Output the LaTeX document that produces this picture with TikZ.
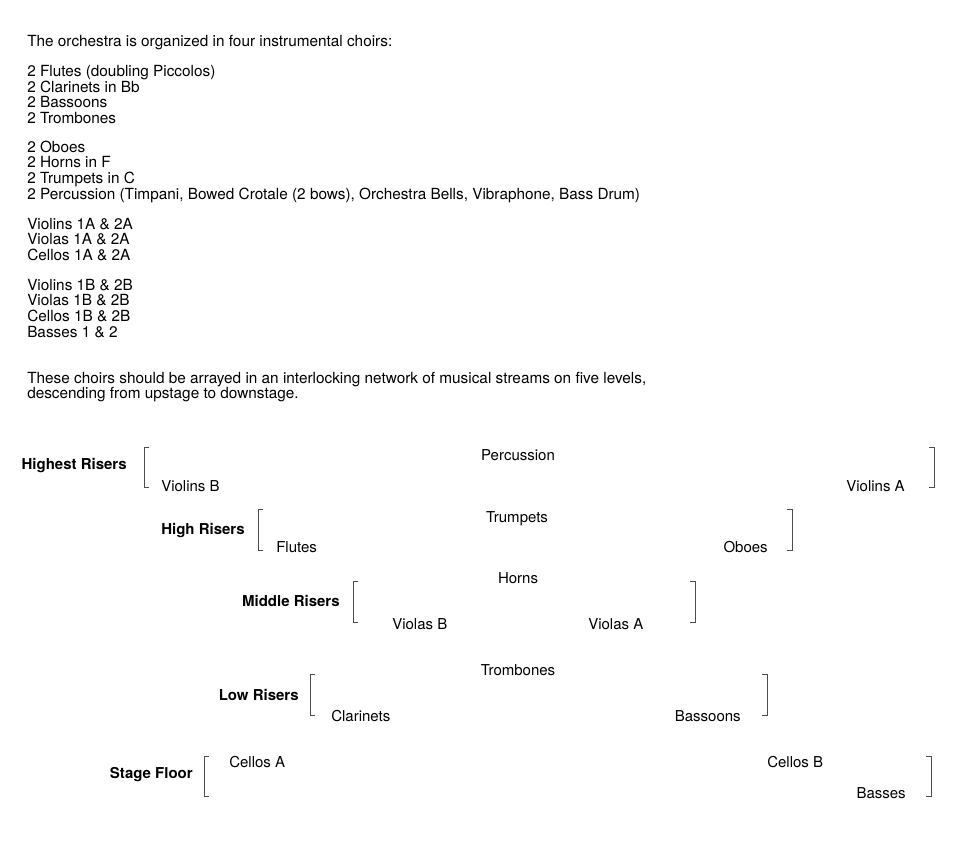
\documentclass[tikz,border=0pt]{standalone}
\usepackage{fontspec}
\setmainfont{TeX Gyre Heros}
\newcommand{\bloque}[1]{\begin{tabular}[t]{@{}l@{}}#1\end{tabular}}

\begin{document}
\begin{tikzpicture}
  [x=0.75pt,y=-0.75pt,
   every node/.style={inner sep=0pt,font=\fontsize{11.25}{11.5}\selectfont},
   txt/.style={anchor=base west,font=\fontsize{11.5}{11.5}\selectfont},
   voz/.style={anchor=base west},
   vozd/.style={anchor=base east},
   nivel/.style={anchor=base east,font=\fontsize{11.25}{11.5}\selectfont\bfseries},
   centro/.style={anchor=base},
   brk/.style={draw=black!70,line width=0.6pt}]

  \useasboundingbox (0,0) rectangle (968,846);

  % Texto superior
  \node[txt] (intro) at (27,46) {The orchestra is organized in four instrumental choirs:};
  \node[txt] (coroA) at (27,76) {\bloque{2 Flutes (doubling Piccolos)\\2 Clarinets in Bb\\2 Bassoons\\2 Trombones}};
  \node[txt] (coroB) at (27,152) {\bloque{2 Oboes\\2 Horns in F\\2 Trumpets in C\\2 Percussion (Timpani, Bowed Crotale (2 bows), Orchestra Bells, Vibraphone, Bass Drum)}};
  \node[txt] (coroC) at (27,229) {\bloque{Violins 1A \& 2A\\Violas 1A \& 2A\\Cellos 1A \& 2A}};
  \node[txt] (coroD) at (27,290) {\bloque{Violins 1B \& 2B\\Violas 1B \& 2B\\Cellos 1B \& 2B\\Basses 1 \& 2}};
  \node[txt] (final) at (27,383) {\bloque{These choirs should be arrayed in an interlocking network of musical streams on five levels,\\descending from upstage to downstage.}};

  % Highest Risers
  \node[nivel] (n1) at (127,469) {Highest Risers};
  \draw[brk] (149,447) -- (144,447) -- (144,487) -- (149,487);
  \node[centro] (perc) at (518,460) {Percussion};
  \node[voz] (vlnB) at (161,491) {Violins B};
  \node[vozd] (vlnA) at (905,491) {Violins A};
  \draw[brk] (929,447) -- (934,447) -- (934,487) -- (929,487);

  % High Risers
  \node[nivel] (n2) at (245,534) {High Risers};
  \draw[brk] (263,509) -- (258,509) -- (258,550) -- (263,550);
  \node[centro] (trp) at (517,522) {Trumpets};
  \node[voz] (fl) at (276,552) {Flutes};
  \node[vozd] (ob) at (768,552) {Oboes};
  \draw[brk] (787,509) -- (792,509) -- (792,550) -- (787,550);

  % Middle Risers
  \node[nivel] (n3) at (340,606) {Middle Risers};
  \draw[brk] (358,581) -- (353,581) -- (353,622) -- (358,622);
  \node[centro] (hn) at (518,583) {Horns};
  \node[voz] (vlaB) at (392,629) {Violas B};
  \node[voz] (vlaA) at (588,629) {Violas A};
  \draw[brk] (690,581) -- (695,581) -- (695,622) -- (690,622);

  % Low Risers
  \node[nivel] (n4) at (299,700) {Low Risers};
  \draw[brk] (315,674) -- (310,674) -- (310,715) -- (315,715);
  \node[centro] (tbn) at (518,675) {Trombones};
  \node[voz] (cl) at (331,721) {Clarinets};
  \node[vozd] (bsn) at (741,721) {Bassoons};
  \draw[brk] (762,674) -- (767,674) -- (767,715) -- (762,715);

  % Stage Floor
  \node[nivel] (n5) at (193,778) {Stage Floor};
  \draw[brk] (209,756) -- (204,756) -- (204,796) -- (209,796);
  \node[voz] (vcA) at (229,767) {Cellos A};
  \node[voz] (vcB) at (767,767) {Cellos B};
  \node[vozd] (cb) at (906,798) {Basses};
  \draw[brk] (926,756) -- (931,756) -- (931,796) -- (926,796);

\end{tikzpicture}
\end{document}
